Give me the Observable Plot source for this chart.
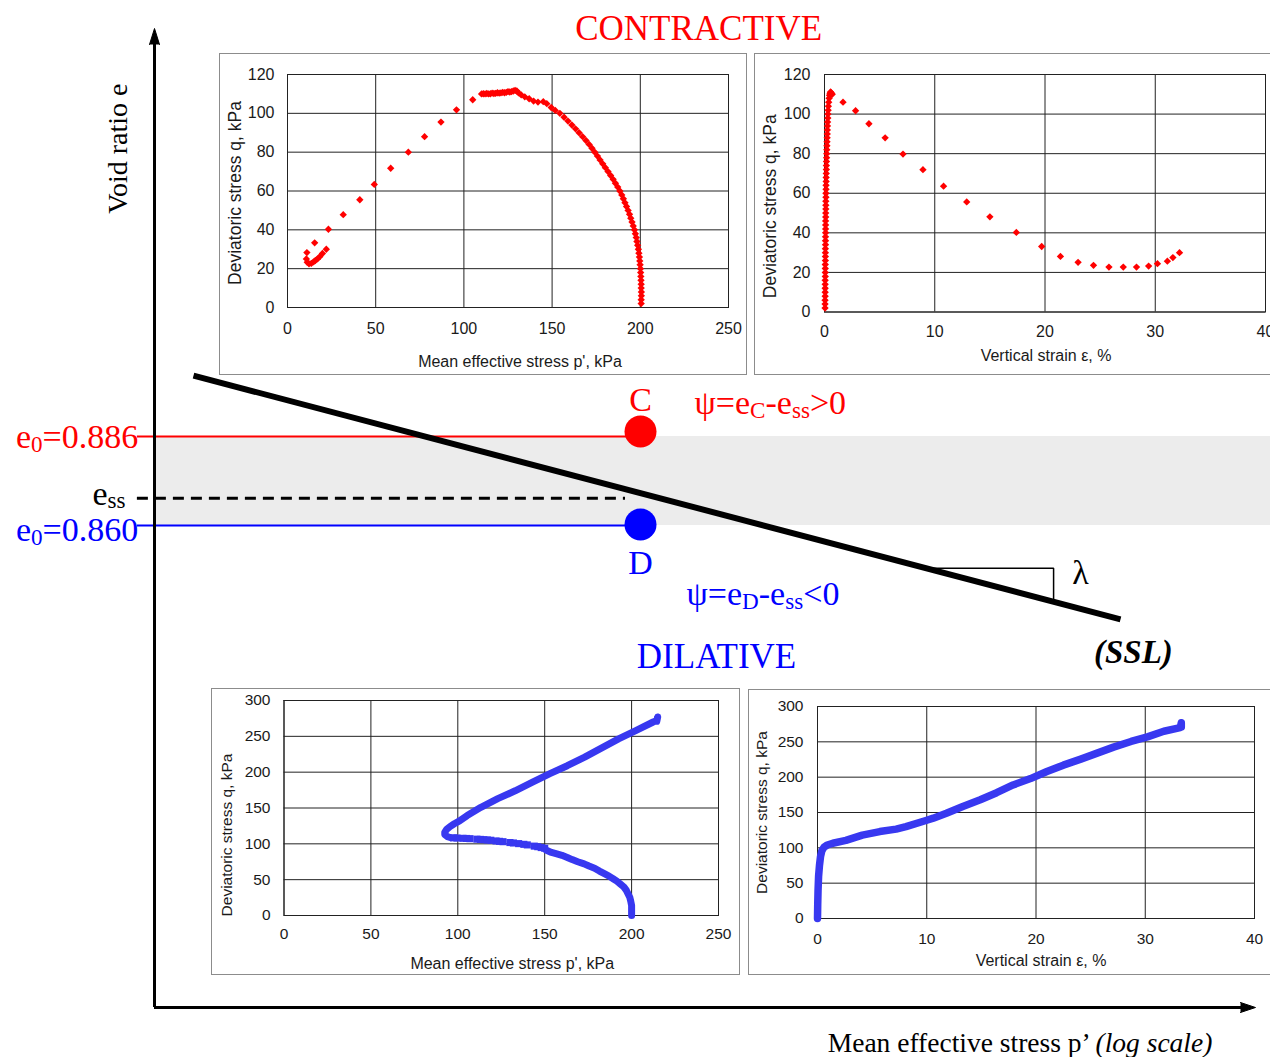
<!DOCTYPE html>
<html><head><meta charset="utf-8">
<script src="https://cdn.jsdelivr.net/npm/d3@7"></script>
<script src="https://cdn.jsdelivr.net/npm/@observablehq/plot@0.6"></script>
<style>
html,body{margin:0;padding:0;background:#fff;}
#fig{position:relative;width:1270px;height:1057px;overflow:hidden;background:#fff;}
#fig > svg{position:absolute;left:0;top:0;}
.inset{position:absolute;background:#fff;border:1.5px solid #8c8c8c;box-sizing:border-box;}
.inset svg{display:block;position:absolute;left:-1.5px;top:-1.5px;}
</style></head><body><div id="fig"></div>
<script>
// ---------- main schematic (void ratio e vs log p') ----------
const pDomain = [32, 2033];
const eDomain = [0.7192, 1.0052];
const eC = 0.886, eD = 0.860, eSS = 0.868;
const pState = 200;
const sslLine = [[37.07, 0.9038], [1222, 0.8326]];
const lambdaTri = [[600, 0.8475], [949.5, 0.8475], [949.5, 0.8385]];

// ---------- contractive test (red) ----------
const redPQ = [[200.5,2],[200.5,4],[200.6,6],[200.6,8],[200.5,10],[200.5,12],[200.4,14],[200.3,16],[200.2,18],[200.1,20],[199.9,22],[199.7,24],[199.5,26],[199.2,28],[198.9,30],[198.5,32],[198.1,34],[197.7,36],[197.2,38],[196.7,40],[196.0,42],[195.3,44],[194.6,46],[193.9,48],[193.1,50],[192.2,52],[191.3,54],[190.4,56],[189.5,58],[188.4,60],[187.2,62],[185.9,64],[184.6,66],[183.2,68],[181.7,70],[180.2,72],[178.7,74],[177.2,76],[175.7,78],[174.2,80],[172.6,82],[171.0,84],[169.2,86],[167.3,88],[165.3,90],[163.3,92],[161.2,94],[159.0,96],[156.8,98],[154.4,100],[151.8,101.5],[149.5,103],[147,105],[145,106],[142,105.8],[139.5,106.3],[137,107.5],[134.5,108.5],[132.5,109.5],[131,110.5],[130,111.5],[129,111.8],[128,111.5],[127,111.2],[126,111],[125,111.2],[124,110.8],[123,110.6],[122,110.8],[121,110.5],[120,110.4],[119,110.6],[118,110.3],[117,110.2],[116,110.4],[115,110.1],[114,110],[113,110.2],[112,110],[111,110.1],[110,110],[105,107],[95.8,101.8],[87,95.5],[77.7,88],[68.5,80],[58.5,71.7],[49.2,63.4],[41,55.5],[31.6,47.8],[23.2,40.3],[15.4,33.3],[11,28.3],[10.7,25],[11.2,23.3],[12.2,22.5],[13.5,22.7],[14.8,23.5],[15.8,24.2],[17,25],[18.3,26.2],[19.8,27.8],[22,30]];
const redEpsQ = [[0.05,2],[0.05,4],[0.05,6],[0.06,8],[0.06,10],[0.06,12],[0.06,14],[0.06,16],[0.07,18],[0.07,20],[0.07,22],[0.07,24],[0.08,26],[0.08,28],[0.08,30],[0.08,32],[0.09,34],[0.09,36],[0.09,38],[0.1,40],[0.1,42],[0.1,44],[0.1,46],[0.11,48],[0.11,50],[0.12,52],[0.12,54],[0.12,56],[0.13,58],[0.13,60],[0.14,62],[0.14,64],[0.15,66],[0.15,68],[0.16,70],[0.17,72],[0.17,74],[0.18,76],[0.19,78],[0.2,80],[0.21,82],[0.22,84],[0.23,86],[0.24,88],[0.25,90],[0.26,92],[0.27,94],[0.28,96],[0.3,98],[0.31,100],[0.33,102],[0.35,104],[0.38,106],[0.42,108],[0.46,109.5],[0.5,110.5],[0.55,111.2],[0.6,110.8],[0.65,110.3],[0.7,110],[1.68,106],[2.82,101.7],[4.03,95.1],[5.5,88],[7.12,79.8],[8.93,71.9],[10.8,63.6],[12.9,55.6],[15.0,48.1],[17.4,40.2],[19.7,33.1],[21.4,28.1],[23.0,25.1],[24.4,23.6],[25.8,22.7],[27.1,22.7],[28.3,22.7],[29.4,23.2],[30.2,24.4],[31.1,25.7],[31.6,27.5],[32.2,30]];

// ---------- dilative test (blue) ----------
const bluePQLower = [[200,0],[200,5],[200,10],[200,14],[199.5,20],[199,25],[198,30],[197,35],[195.5,40],[193.5,44],[191.5,48],[189.6,51],[187,55],[184.6,58],[181.5,62],[178.7,66],[175.5,69],[172.7,72],[169,75],[165.8,78],[163,81],[159.9,84],[157,86],[153.9,88],[151,91]];
const bluePQMid = [[150,93.8],[148,94.8],[146,96],[144,96.8],[140,98.5],[138,99.3],[135,100.3],[132,101.2],[130,101.8],[126,103],[124,103.5],[122,104],[119,105],[117,105.4],[115,105.8],[113,106.2],[111,106.5],[107,107.2],[105,107.5],[103,107.7],[99.5,108.1],[97.5,108.4]];
const bluePQUpper = [[96,108.5],[94,110],[92.5,113],[92.5,116],[93.5,120],[95.5,124],[98,128],[101,132],[105.4,139.5],[113.3,151],[123,163],[133,174],[143,186],[153,198],[163,209],[173,221],[182.6,233.5],[192.5,246.5],[202.4,258],[212.4,270],[214.5,272],[215,277],[214.5,271]];
const blueEpsQ = [[0,0],[0.02,20],[0.05,40],[0.1,60],[0.18,75],[0.28,88],[0.4,96],[0.6,101],[0.9,104],[1.4,106.5],[2.6,110.5],[4.1,118],[5.7,123],[7.2,126.5],[8.1,130],[10,139],[10.6,142],[11.8,149],[13.3,158.5],[14.9,168],[16.4,178],[17.9,189],[19.5,198],[21,208],[22.5,217],[24.1,225.5],[25.6,234],[27.1,242.5],[28.7,250.5],[30.2,257],[31.7,265],[33.2,270],[33.3,277],[33.3,271]];

// ---------- ticks / labels ----------
const pTicks = [0, 50, 100, 150, 200, 250];
const strainTicks = [0, 10, 20, 30, 40];
const qTicksC = [0, 20, 40, 60, 80, 100, 120];
const qTicksD = [0, 50, 100, 150, 200, 250, 300];
const labelP = "Mean effective stress p', kPa";
const labelEps = "Vertical strain ε, %";
const labelQ = "Deviatoric stress q, kPa";

const RED = "#ff0000", BLUE = "#0000ff", BLUE2 = "#3838f0";
const serif = "'Liberation Serif','Times New Roman',serif";
const sans = "'Liberation Sans',Arial,sans-serif";
const fig = document.getElementById("fig");

function richify(root) {
  d3.select(root).selectAll("text").each(function() {
    const s = this.textContent;
    if (!/[_~]\{/.test(s)) return;
    const fs = parseFloat(getComputedStyle(this).fontSize);
    const sh = 0.1 * fs;
    const node = d3.select(this);
    node.text(null);
    let shifted = false;
    for (const m of s.matchAll(/_\{([^}]*)\}|~\{([^}]*)\}|([^_~]+)/g)) {
      const ts = node.append("tspan");
      if (m[1] !== undefined) {
        ts.text(m[1]).attr("font-size", fs * 0.68);
        if (!shifted) { ts.attr("dy", sh); shifted = true; }
      } else {
        ts.text(m[2] !== undefined ? m[2] : m[3]);
        if (m[2] !== undefined) ts.attr("font-style", "italic");
        if (shifted) { ts.attr("dy", -sh); shifted = false; }
      }
    }
  });
}

const txt = (arr, o) => Plot.text(arr, {x: d => d.p, y: d => d.e, text: d => d.t, ...o});

const main = Plot.plot({
  width: 1270, height: 1057,
  marginLeft: 154, marginRight: 15, marginTop: 28, marginBottom: 50,
  x: {type: "log", domain: pDomain, axis: null},
  y: {domain: eDomain, axis: null},
  style: {background: "transparent", fontFamily: serif, maxWidth: "none", overflow: "visible"},
  marks: [
    Plot.rect([{}], {x1: pDomain[0], x2: 2600, y1: eD, y2: eC, fill: "#ececec"}),
    Plot.ruleY([eC], {x1: 30, x2: pState, stroke: RED, strokeWidth: 2}),
    Plot.ruleY([eD], {x1: 30, x2: pState, stroke: BLUE, strokeWidth: 2}),
    Plot.ruleY([eSS], {x1: 30, x2: 189, stroke: "black", strokeWidth: 3, strokeDasharray: "11,7"}),
    Plot.line(sslLine, {x: d => d[0], y: d => d[1], stroke: "black", strokeWidth: 6, strokeLinecap: "butt"}),
    Plot.line(lambdaTri, {x: d => d[0], y: d => d[1], stroke: "black", strokeWidth: 1.5, strokeLinejoin: "miter"}),
    Plot.ruleX([pDomain[0]], {y1: eDomain[0], y2: 1.0017, stroke: "black", strokeWidth: 3}),
    Plot.ruleY([eDomain[0]], {x1: pDomain[0], x2: 1943, stroke: "black", strokeWidth: 3}),
    Plot.vector([[pDomain[0], eDomain[1]]], {x: d => d[0], y: d => d[1], shape: "spike", length: 16, r: 5, anchor: "end", rotate: 0, fill: "black", stroke: "black", strokeWidth: 1}),
    Plot.vector([[pDomain[1], eDomain[0]]], {x: d => d[0], y: d => d[1], shape: "spike", length: 15, r: 5, anchor: "end", rotate: 90, fill: "black", stroke: "black", strokeWidth: 1}),
    Plot.dot([[pState, eC]], {x: d => d[0], y: d => d[1], r: 16, fill: RED, dy: -5}),
    Plot.dot([[pState, eD]], {x: d => d[0], y: d => d[1], r: 16, fill: BLUE, dy: -1}),
    txt([{t: "CONTRACTIVE", p: 249, e: 1.0052}], {fill: RED, fontSize: 35}),
    txt([{t: "DILATIVE", p: 266.4, e: 0.8217}], {fill: BLUE, fontSize: 35}),
    txt([{t: "Void ratio e", p: 27.94, e: 0.9701}], {fill: "black", fontSize: 28, rotate: -90}),
    txt([{t: "Mean effective stress p’ ~{(log scale)}", p: 836.7, e: 0.7088}], {fill: "black", fontSize: 27.5}),
    txt([{t: "C", p: pState, e: 0.8965}], {fill: RED, fontSize: 34}),
    txt([{t: "D", p: pState, e: 0.8489}], {fill: BLUE, fontSize: 34}),
    txt([{t: "ψ=e_{C}-e_{ss}>0", p: 245.2, e: 0.8957}], {fill: RED, fontSize: 34, textAnchor: "start"}),
    txt([{t: "ψ=e_{D}-e_{ss}<0", p: 237.9, e: 0.8399}], {fill: BLUE, fontSize: 34, textAnchor: "start"}),
    txt([{t: "λ", p: 1051, e: 0.846}], {fill: "black", fontSize: 34}),
    txt([{t: "(SSL)", p: 1283, e: 0.8229}], {fill: "black", fontSize: 33, fontWeight: "bold", fontStyle: "italic"}),
    txt([{t: `e_{0}=${eC.toFixed(3)}`, p: 30.1, e: eC}], {fill: RED, fontSize: 34, textAnchor: "end", dy: 1}),
    txt([{t: `e_{0}=${eD.toFixed(3)}`, p: 30.1, e: eD}], {fill: BLUE, fontSize: 34, textAnchor: "end", dy: 5}),
    txt([{t: "e_{ss}", p: 28.69, e: eSS}], {fill: "black", fontSize: 34, textAnchor: "end", dy: -4})
  ]
});
fig.appendChild(main);
richify(main);

function inset(c) {
  const div = document.createElement("div");
  div.className = "inset";
  Object.assign(div.style, {left: c.left + "px", top: c.top + "px", width: c.width + "px", height: c.height + "px"});
  const svg = Plot.plot({
    width: c.width, height: c.height,
    marginLeft: c.ml, marginRight: c.mr, marginTop: c.mt, marginBottom: c.mb,
    x: {domain: [c.xTicks[0], c.xTicks[c.xTicks.length - 1]], ticks: c.xTicks, tickSize: 0, tickPadding: c.xPad, label: null},
    y: {domain: [c.yTicks[0], c.yTicks[c.yTicks.length - 1]], ticks: c.yTicks, tickSize: 0, tickPadding: c.yPad, label: null},
    style: {background: "transparent", fontFamily: sans, fontSize: c.tickFont + "px", color: "#1a1a1a", maxWidth: "none", overflow: "visible"},
    marks: [
      Plot.ruleX(c.xTicks, {stroke: "#222", strokeWidth: 1}),
      Plot.ruleY(c.yTicks, {stroke: "#222", strokeWidth: 1}),
      Plot.frame({stroke: "#222", strokeWidth: 1}),
      ...c.marks,
      Plot.text([c.xLabel], {text: d => d, frameAnchor: "bottom", textAnchor: "middle", lineAnchor: "middle", dx: c.xlDx, dy: c.xlDy, fontSize: 16, fill: "#1a1a1a"}),
      Plot.text([c.yLabel], {text: d => d, frameAnchor: "left", textAnchor: "middle", lineAnchor: "middle", rotate: -90, dx: c.ylDx, dy: c.ylDy, fontSize: c.ylFont, fill: "#1a1a1a"})
    ]
  });
  div.appendChild(svg);
  fig.appendChild(div);
}

const px = d => d[0], py = d => d[1];

inset({left: 219, top: 53, width: 528, height: 322, ml: 68, mr: 19, mt: 21, mb: 68,
  xTicks: pTicks, yTicks: qTicksC, xPad: 15, yPad: 13, tickFont: 16,
  xLabel: labelP, yLabel: labelQ, xlDx: 12, xlDy: 54, ylDx: -52, ylDy: 2, ylFont: 17.5,
  marks: [Plot.dot(redPQ, {x: px, y: py, symbol: "diamond2", r: 3.3, fill: RED, stroke: "none"})]});

inset({left: 754, top: 53, width: 536, height: 322, ml: 70, mr: 25, mt: 21, mb: 63.5,
  xTicks: strainTicks, yTicks: qTicksC, xPad: 14, yPad: 14, tickFont: 16,
  xLabel: labelEps, yLabel: labelQ, xlDx: 1, xlDy: 44, ylDx: -54, ylDy: 13, ylFont: 17.5,
  marks: [Plot.dot(redEpsQ, {x: px, y: py, symbol: "diamond2", r: 3.3, fill: RED, stroke: "none"})]});

inset({left: 211, top: 688, width: 529, height: 287, ml: 72.5, mr: 22, mt: 12, mb: 60,
  xTicks: pTicks, yTicks: qTicksD, xPad: 12, yPad: 13.5, tickFont: 15.5,
  xLabel: labelP, yLabel: labelQ, xlDx: 11, xlDy: 48, ylDx: -56.5, ylDy: 27, ylFont: 15.5,
  marks: [
    Plot.line(bluePQLower, {x: px, y: py, stroke: BLUE2, strokeWidth: 7}),
    Plot.dot(bluePQMid, {x: px, y: py, symbol: "square", r: 4, fill: BLUE2, stroke: "none"}),
    Plot.line(bluePQUpper, {x: px, y: py, stroke: BLUE2, strokeWidth: 7})
  ]});

inset({left: 748, top: 689, width: 542, height: 286, ml: 69, mr: 36, mt: 17, mb: 57,
  xTicks: strainTicks, yTicks: qTicksD, xPad: 14, yPad: 14, tickFont: 15.5,
  xLabel: labelEps, yLabel: labelQ, xlDx: 5, xlDy: 42, ylDx: -55, ylDy: 0, ylFont: 15.5,
  marks: [Plot.line(blueEpsQ, {x: px, y: py, stroke: BLUE2, strokeWidth: 7.5})]});
</script></body></html>
